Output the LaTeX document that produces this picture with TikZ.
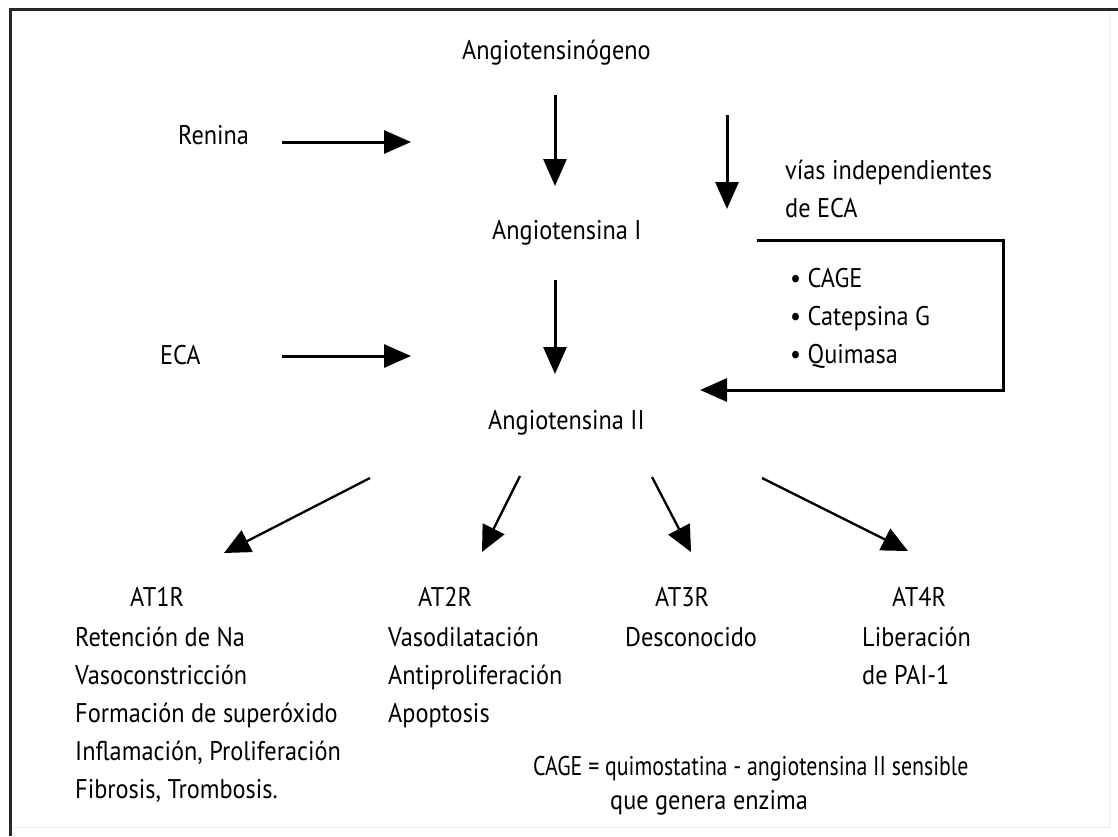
\documentclass[tikz,border=0pt]{standalone}
\usepackage{fontspec}
\setmainfont{PT Sans}[FakeStretch=0.9]
\newfontfamily\narrowfont{PT Sans}[FakeStretch=0.81]
\usetikzlibrary{arrows.meta}
\begin{document}
\begin{tikzpicture}[x=1pt,y=-1pt,
  lbl/.style={font=\fontsize{27}{38}\selectfont, inner sep=0pt, anchor=base west, align=left},
  arr/.style={line width=3pt, -{Triangle[length=27pt,width=23pt]}},
  darr/.style={line width=2.3pt, -{Triangle[length=26pt,width=24pt]}},
  frame/.style={line width=3pt, black!85},
  lframe/.style={line width=1pt, black!8}]
\useasboundingbox (0,0) rectangle (1118,836);
\fill[white] (0,0) rectangle (1118,836);
\draw[lframe] (1109,9) -- (1109,827) -- (10,827);
\draw[frame] (10,836) -- (10,9) -- (1118,9);

% texts (base anchor = baseline of the last line)
\node[lbl] (ang) at (462,59) {Angiotensinógeno};
\node[lbl] (ren) at (178,144) {Renina};
\node[lbl] (vias) at (785,217) {vías independientes\\de ECA};
\node[lbl] (a1) at (492,239) {Angiotensina I};
\node[lbl] (list) at (790,363) {• CAGE\\• Catepsina G\\• Quimasa};
\node[lbl] (eca) at (160,364) {ECA};
\node[lbl] (a2) at (488,429) {Angiotensina II};

\node[lbl] (r1) at (130,606) {AT1R};
\node[lbl] (r2) at (418,606) {AT2R};
\node[lbl] (r3) at (655,606) {AT3R};
\node[lbl] (r4) at (892,606) {AT4R};

\node[lbl] (e1) at (75,798) {Retención de Na\\Vasoconstricción\\Formación de superóxido\\Inflamación, Proliferación\\Fibrosis, Trombosis.};
\node[lbl] (e2) at (388,722) {Vasodilatación\\Antiproliferación\\Apoptosis};
\node[lbl] (e3) at (625,646) {Desconocido};
\node[lbl] (e4) at (862,684) {Liberación\\de PAI-1};

\node[lbl, font=\fontsize{27}{38}\narrowfont] (cage) at (533,775) {CAGE = quimostatina - angiotensina II sensible};
\node[lbl] (cage2) at (610,809) {que genera enzima};

% arrow endpoints
\coordinate (renA) at (282,142);
\coordinate (renB) at (411,142);
\coordinate (ecaA) at (282,356);
\coordinate (ecaB) at (411,356);
\coordinate (d1a) at (555,95);
\coordinate (d1b) at (555,186);
\coordinate (d2a) at (727,115);
\coordinate (d2b) at (727,209);
\coordinate (d3a) at (555,280);
\coordinate (d3b) at (555,374);
\coordinate (bA) at (757,240);
\coordinate (bB) at (1003,240);
\coordinate (bC) at (1003,390);
\coordinate (bD) at (700,390);
\coordinate (g1a) at (370,478);
\coordinate (g1b) at (224,553);
\coordinate (g2a) at (520,476);
\coordinate (g2b) at (482,552);
\coordinate (g3a) at (652,477);
\coordinate (g3b) at (691,552);
\coordinate (g4a) at (762,478);
\coordinate (g4b) at (908,551);

\draw[arr] (renA) -- (renB);
\draw[arr] (ecaA) -- (ecaB);
\draw[arr] (d1a) -- (d1b);
\draw[arr] (d2a) -- (d2b);
\draw[arr] (d3a) -- (d3b);
\draw[arr] (bA) -- (bB) -- (bC) -- (bD);
\draw[darr] (g1a) -- (g1b);
\draw[darr] (g2a) -- (g2b);
\draw[darr] (g3a) -- (g3b);
\draw[darr] (g4a) -- (g4b);
\end{tikzpicture}
\end{document}
